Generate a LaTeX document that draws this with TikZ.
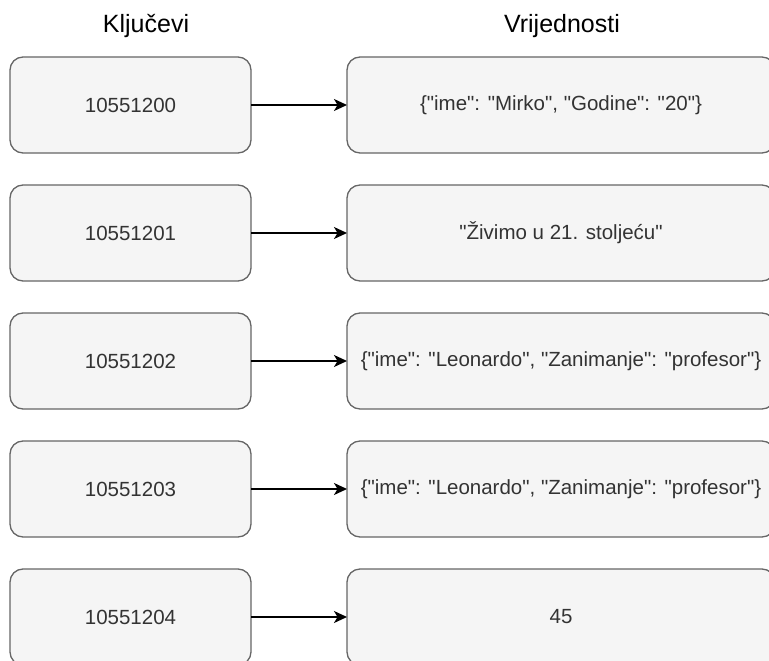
\documentclass[tikz,border=0pt]{standalone}
\usepackage{fontspec}
\setmainfont{Liberation Sans}[Ligatures=TeXOff]
\usepackage{xcolor}
\usepackage{tikz}
\usetikzlibrary{arrows.meta,positioning}
\definecolor{boxfill}{RGB}{245,245,245}
\definecolor{boxline}{RGB}{102,102,102}
\definecolor{boxtext}{RGB}{51,51,51}

\begin{document}
\begin{tikzpicture}[
    keybox/.style = {rectangle, draw=boxline, fill=boxfill, line width=1.3pt,
                     minimum width=241pt, minimum height=96pt, outer sep=0pt,
                     font=\fontsize{20.5}{24}\selectfont\color{boxtext}, rounded corners=13pt},
    valbox/.style = {keybox, minimum width=428pt},
    head/.style   = {font=\fontsize{25}{30}\selectfont, text=black},
    arr/.style    = {-{Stealth[length=13pt, width=12pt, inset=3.5pt]}, line width=1.4pt, draw=black},
    node distance = 32pt
  ]
    \clip (0,0) rectangle (769pt,-661pt);

    \node[head] (hkey) at (146pt,-26pt) {Ključevi};
    \node[head] (hval) at (562pt,-26pt) {Vrijednosti};

    \node[keybox] (k0) at (130.5pt,-105pt) {10551200};
    \node[keybox, below=of k0] (k1) {10551201};
    \node[keybox, below=of k1] (k2) {10551202};
    \node[keybox, below=of k2] (k3) {10551203};
    \node[keybox, below=of k3] (k4) {10551204};

    \node[valbox, right=96pt of k0] (v0) {\{"ime": "Mirko", "Godine": "20"\}};
    \node[valbox, right=96pt of k1] (v1) {"Živimo u 21. stoljeću"};
    \node[valbox, right=96pt of k2] (v2) {\{"ime": "Leonardo", "Zanimanje": "profesor"\}};
    \node[valbox, right=96pt of k3] (v3) {\{"ime": "Leonardo", "Zanimanje": "profesor"\}};
    \node[valbox, right=96pt of k4] (v4) {45};

    \draw[arr] (k0) -- (v0);
    \draw[arr] (k1) -- (v1);
    \draw[arr] (k2) -- (v2);
    \draw[arr] (k3) -- (v3);
    \draw[arr] (k4) -- (v4);
  \end{tikzpicture}
\end{document}
